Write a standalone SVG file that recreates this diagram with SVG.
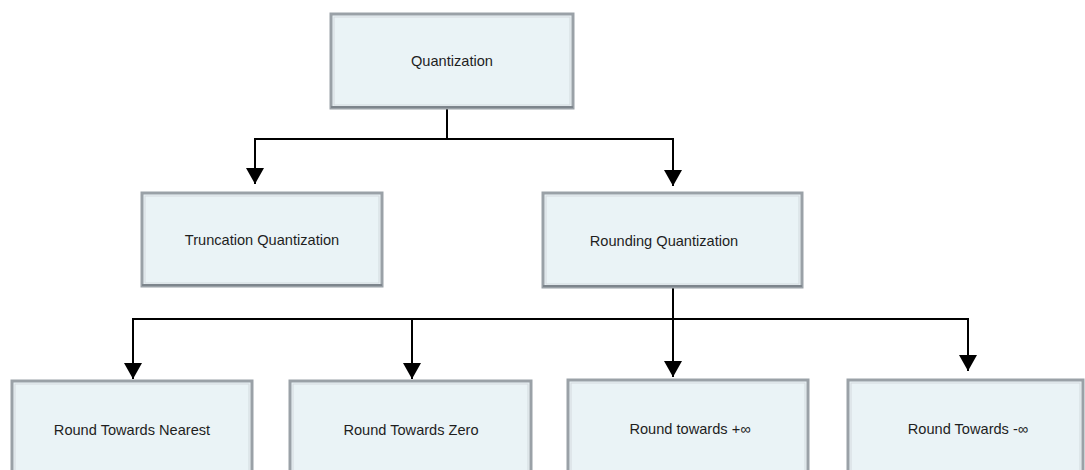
<svg xmlns="http://www.w3.org/2000/svg" width="1085" height="470" viewBox="0 0 1085 470">
<style>
.box{fill:#eaf3f6;stroke:#9aa1a7;stroke-width:3}
.inner{fill:none;stroke:#d3dade;stroke-width:1}
.bot{stroke:#7d858c;stroke-width:2}
.t{font-family:"Liberation Sans",Arial,sans-serif;font-size:14.6px;fill:#1e1e1e;text-anchor:middle}
.c{fill:none;stroke:#000;stroke-width:2}
</style>
<defs>
<marker id="ah" markerWidth="8" markerHeight="9" refX="8" refY="4.5" orient="auto" markerUnits="strokeWidth">
<path d="M0,0 L8,4.5 L0,9 Z" fill="#000"/>
</marker>
</defs>
<rect width="1085" height="470" fill="#fff"/>
<g id="connectors">
<path class="c" d="M447,108 V139 H255 V184" marker-end="url(#ah)"/>
<path class="c" d="M447,139 H673 V186" marker-end="url(#ah)"/>
<path class="c" d="M673,287 V319 H133 V379" marker-end="url(#ah)"/>
<path class="c" d="M412,319 V379" marker-end="url(#ah)"/>
<path class="c" d="M673,319 V377" marker-end="url(#ah)"/>
<path class="c" d="M673,319 H968 V371" marker-end="url(#ah)"/>
</g>
<g id="n-quant">
<rect class="box" x="331" y="14" width="242" height="94"/>
<rect class="inner" x="334" y="17" width="236" height="88"/>
<line class="bot" x1="331" y1="107" x2="573" y2="107"/>
<text class="t" x="452" y="66">Quantization</text>
</g>
<g id="n-trunc">
<rect class="box" x="142" y="193" width="240" height="93"/>
<rect class="inner" x="145" y="196" width="234" height="87"/>
<line class="bot" x1="142" y1="285" x2="382" y2="285"/>
<text class="t" x="262" y="245">Truncation Quantization</text>
</g>
<g id="n-round">
<rect class="box" x="543" y="193" width="259" height="94"/>
<rect class="inner" x="546" y="196" width="253" height="88"/>
<line class="bot" x1="543" y1="286" x2="802" y2="286"/>
<text class="t" x="664" y="246">Rounding Quantization</text>
</g>
<g id="n-nearest">
<rect class="box" x="12" y="381" width="240" height="100"/>
<rect class="inner" x="15" y="384" width="234" height="94"/>
<text class="t" x="132" y="435">Round Towards Nearest</text>
</g>
<g id="n-zero">
<rect class="box" x="290" y="381" width="241" height="100"/>
<rect class="inner" x="293" y="384" width="235" height="94"/>
<text class="t" x="411" y="435">Round Towards Zero</text>
</g>
<g id="n-plusinf">
<rect class="box" x="568" y="380" width="240" height="100"/>
<rect class="inner" x="571" y="383" width="234" height="94"/>
<text class="t" x="690" y="434">Round towards +∞</text>
</g>
<g id="n-minusinf">
<rect class="box" x="848" y="380" width="235" height="100"/>
<rect class="inner" x="851" y="383" width="229" height="94"/>
<text class="t" x="968" y="434">Round Towards -∞</text>
</g>
</svg>
